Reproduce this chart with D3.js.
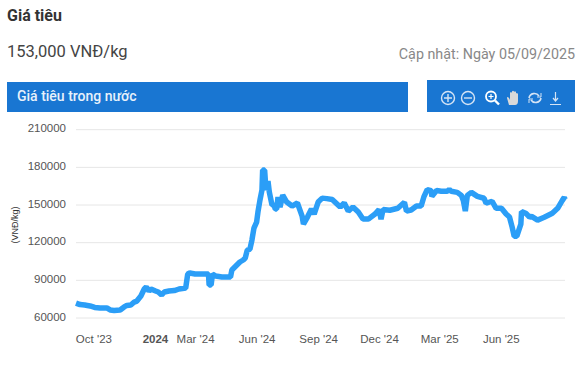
<!DOCTYPE html>
<html>
<head>
<meta charset="utf-8">
<script src="https://cdn.jsdelivr.net/npm/d3@7"></script>
<style>
  html, body { margin: 0; padding: 0; background: #fff; }
  svg { display: block; }
  .head { font-family: Roboto, sans-serif; }
  .axis text { font-family: "Liberation Sans", Arial, sans-serif; font-size: 11.5px; fill: #555; }
</style>
</head>
<body>
<div id="chart"></div>
<script>
// values
const dates = ['2023-09-05','2023-09-11','2023-09-18','2023-09-26','2023-10-03','2023-10-11','2023-10-21','2023-10-26','2023-11-01','2023-11-10','2023-11-16','2023-11-20','2023-11-26','2023-12-01','2023-12-05','2023-12-11','2023-12-16','2023-12-19','2023-12-23','2023-12-26',
  '2024-01-02','2024-01-06','2024-01-11','2024-01-15','2024-01-22','2024-01-30','2024-02-06','2024-02-16','2024-02-19','2024-02-22','2024-03-01','2024-03-14','2024-03-21','2024-03-22','2024-03-25','2024-03-27','2024-04-01','2024-04-10','2024-04-23','2024-04-25',
  '2024-05-01','2024-05-07','2024-05-12','2024-05-15','2024-05-18','2024-05-22','2024-05-25','2024-05-28','2024-06-01','2024-06-03','2024-06-06','2024-06-09','2024-06-10','2024-06-13','2024-06-15','2024-06-18','2024-06-20','2024-06-24','2024-06-27','2024-06-29',
  '2024-07-01','2024-07-03','2024-07-06','2024-07-10','2024-07-16','2024-07-24','2024-08-01','2024-08-08','2024-08-10','2024-08-16','2024-08-22','2024-08-26','2024-09-01','2024-09-07','2024-09-14','2024-09-22','2024-09-26','2024-10-04','2024-10-10','2024-10-16',
  '2024-10-23','2024-10-31','2024-11-07','2024-11-15','2024-11-25','2024-12-01','2024-12-04','2024-12-07','2024-12-17','2024-12-29','2025-01-08','2025-01-11','2025-01-18','2025-01-26','2025-02-02','2025-02-06','2025-02-11','2025-02-17','2025-02-18','2025-02-25',
  '2025-03-04','2025-03-13','2025-03-16','2025-03-19','2025-03-28','2025-04-03','2025-04-06','2025-04-09','2025-04-12','2025-04-18','2025-04-27','2025-05-07','2025-05-10','2025-05-19','2025-05-25','2025-06-02','2025-06-09','2025-06-14','2025-06-18','2025-06-21',
  '2025-06-25','2025-07-01','2025-07-02','2025-07-09','2025-07-14','2025-07-17','2025-07-26','2025-08-05','2025-08-17','2025-08-25','2025-09-01','2025-09-04','2025-09-05'];
const prices = [71900,70700,70300,69600,68400,68000,68000,66400,66000,66400,68800,70000,70300,72700,73500,77500,83100,84700,81500,83100,
  81500,80700,78300,80700,81500,81900,83100,83900,95000,95800,95000,95000,95000,86300,86300,95000,93400,92600,92600,98200,
  101400,104600,106200,107800,114100,114900,122100,131600,136400,144400,153900,161900,177800,177800,161900,169000,160300,150000,150000,146800,
  146800,156400,148400,157900,152400,149200,151600,141200,134800,140400,146800,142800,152400,155500,155100,154400,152400,148400,151600,145200,
  148400,144400,138800,138800,142800,146400,138800,146400,145800,147400,152200,145200,146000,149200,149200,156400,162300,161500,156900,161500,
  160900,160900,162500,160900,160100,157700,153700,145200,157700,160100,156900,155400,151400,153000,147400,147400,142800,140400,132400,125200,
  125200,134800,144800,143200,140400,141000,138000,140200,143400,147400,153700,156100,154500];
const yTicks = [60000,90000,120000,150000,180000,210000];
const xTicks = ['2023-10-01','2024-01-01','2024-03-01','2024-06-01','2024-09-01','2024-12-01','2025-03-01','2025-06-01'];
const xLabels = ["Oct '23",'2024',"Mar '24","Jun '24","Sep '24","Dec '24","Mar '25","Jun '25"];

let width = 584, height = 365;
let parseDate = d3.timeParse('%Y-%m-%d');

let svg = d3.select('#chart').append('svg')
    .attr('width', width)
    .attr('height', height);

// header texts
svg.append('text').attr('class', 'head').attr('x', 7).attr('y', 21)
    .attr('font-size', '16px').attr('font-weight', 700).attr('fill', '#333').text('Giá tiêu');
svg.append('text').attr('class', 'head').attr('x', 7).attr('y', 57)
    .attr('font-size', '16.5px').attr('fill', '#444').text('153,000 VNĐ/kg');
svg.append('text').attr('class', 'head').attr('x', 575).attr('y', 59)
    .attr('font-size', '14.3px').attr('text-anchor', 'end').attr('fill', '#888').text('Cập nhật: Ngày 05/09/2025');

// blue bars
svg.append('rect').attr('x', 7).attr('y', 82).attr('width', 401).attr('height', 30).attr('fill', '#1976d2');
svg.append('rect').attr('x', 427).attr('y', 80).attr('width', 148).attr('height', 32).attr('fill', '#1976d2');
svg.append('text').attr('class', 'head').attr('x', 17).attr('y', 101)
    .attr('font-size', '14px').attr('font-weight', 500).attr('fill', '#e8f1fb').text('Giá tiêu trong nước');

// toolbar icons
let icons = svg.append('g').attr('fill', 'none').attr('stroke', '#d5e4f5').attr('stroke-width', 1.4);
icons.append('circle').attr('cx', 448).attr('cy', 98).attr('r', 6.5);
icons.append('path').attr('d', 'M444,98H452M448,94V102');
icons.append('circle').attr('cx', 468).attr('cy', 98).attr('r', 6.5);
icons.append('path').attr('d', 'M464,98H472');
icons.append('circle').attr('cx', 491).attr('cy', 96.5).attr('r', 5).attr('stroke', '#fff').attr('stroke-width', 1.8);
icons.append('path').attr('d', 'M495,100.5L499,104.5').attr('stroke', '#fff').attr('stroke-width', 2.4);
icons.append('path').attr('d', 'M488.5,96.5H493.5M491,94V99').attr('stroke', '#fff').attr('stroke-width', 1.2);
icons.append('path')
    .attr('d', 'M509,105L507,98Q507,96 509,98L510,100V93Q511,91 512,93V91.5Q513,90 514,91.5V92Q515,90.5 516,92V93.5Q517,92.5 518,94V101Q518,105 515,105Z')
    .attr('fill', '#d9d9d9').attr('stroke', 'none');
icons.append('path').attr('d', 'M529,98A5.5,5.5 0 0 1 539,96M541,98A5.5,5.5 0 0 1 531,100').attr('stroke-width', 1.6);
icons.append('path').attr('d', 'M537,97H541V93M533,99H529V103').attr('stroke-width', 1);
icons.append('path').attr('d', 'M555.5,92V100M553,98L555.5,101L558,98M550,104.5H561').attr('stroke-width', 1.2);

// scales
let x = d3.scaleTime()
    .domain([parseDate('2023-09-05'), parseDate('2025-09-05')])
    .range([76, 565]);
let y = d3.scaleLinear()
    .domain([60000, 210000])
    .range([318, 129.7]);

// gridlines
svg.append('g').selectAll('line')
    .data(yTicks)
    .enter().append('line')
    .attr('x1', 76).attr('x2', 565)
    .attr('y1', function (d) { return y(d); })
    .attr('y2', function (d) { return y(d); })
    .attr('stroke', '#e6e6e6');

// axes
let yAxis = d3.axisLeft(y).tickValues(yTicks).tickSize(0).tickPadding(10).tickFormat(d3.format('d'));
svg.append('g').attr('class', 'axis').attr('transform', 'translate(76,-1.5)').call(yAxis)
    .call(function (g) { g.select('.domain').remove(); });

let xAxis = d3.axisBottom(x)
    .tickValues(xTicks.map(parseDate))
    .tickSize(0).tickPadding(0)
    .tickFormat(function (d, i) { return xLabels[i]; });
svg.append('g').attr('class', 'axis').attr('transform', 'translate(0,335)').call(xAxis)
    .call(function (g) { g.select('.domain').remove(); })
    .selectAll('text')
    .style('font-weight', function (d, i) { return xLabels[i] === '2024' ? 700 : 400; });

// y label
svg.append('text')
    .attr('transform', 'translate(18,225) rotate(-90)')
    .attr('text-anchor', 'middle')
    .attr('font-family', '"Liberation Sans", Arial, sans-serif')
    .attr('font-size', '9px')
    .attr('fill', '#333')
    .text('(VNĐ/kg)');

// price line
let line = d3.line()
    .x(function (d, i) { return x(parseDate(dates[i])); })
    .y(function (d) { return y(d); });
svg.append('path')
    .datum(prices)
    .attr('d', line)
    .attr('fill', 'none')
    .attr('stroke', '#2b9ef7')
    .attr('stroke-width', 5.5)
    .attr('stroke-linejoin', 'bevel');
</script>
</body>
</html>
